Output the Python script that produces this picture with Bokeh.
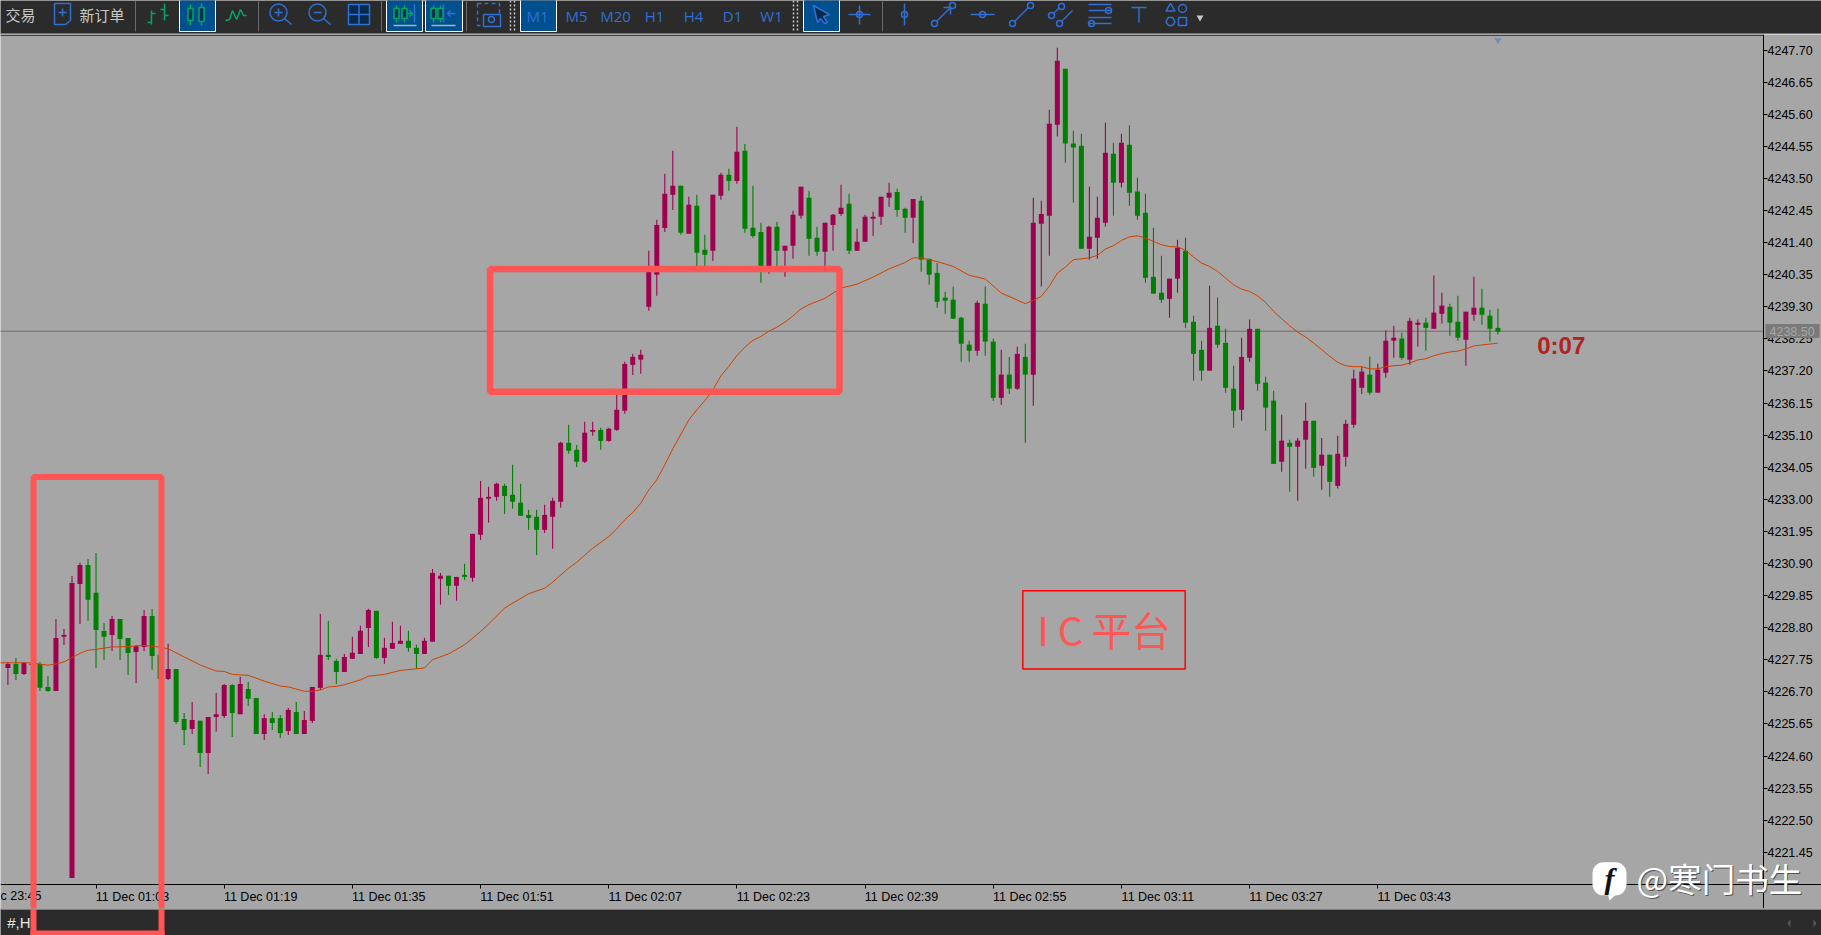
from bokeh.plotting import figure
from bokeh.layouts import column
from bokeh.models import (Range1d, LinearAxis, FixedTicker, PrintfTickFormatter, Label,
                          BoxAnnotation, ColumnDataSource)
from bokeh.core.properties import value
from bokeh.embed import file_html
from bokeh.resources import INLINE

direction = ("UDUUDDUUUU" "DDDUDDUUDD" "UDDUDUUUDU" "DDUDDUDUUU" "DDUUUUDUUU" "DDUUUDUDUU"
             "UUDDDDDUUU" "DDUUDUUUUU" "UUUUDUDDUU" "DUDDDUDUUU" "DDUUUDUUUU" "UDDUDDDDDD"
             "DUDDUDUDUU" "UUDDDUUUDU" "DDDDDUUDDD" "UDDDUUDDDU" "DUUDUDUUUU" "DUUUDUUDUU" "DDUUDDD")
body_top = [
 4227.61,4227.61,4227.65,4227.62,4227.61,4226.86,4228.46,4228.56,4230.26,4230.85,
 4230.85,4229.94,4228.69,4229.08,4229.08,4228.46,4228.20,4229.18,4229.18,4227.91,
 4227.45,4227.45,4225.81,4225.78,4225.75,4225.88,4225.97,4226.92,4226.92,4226.96,
 4226.79,4226.50,4225.84,4225.84,4225.84,4226.11,4226.04,4225.78,4226.86,4227.91,
 4227.91,4227.71,4227.84,4227.98,4228.70,4229.38,4229.35,4228.14,4228.30,4228.37,
 4228.37,4228.14,4228.37,4230.59,4230.50,4230.50,4230.46,4230.53,4231.87,4233.05,
 4233.08,4233.51,4233.44,4233.15,4232.89,4232.49,4232.43,4232.49,4232.95,4234.85,
 4234.85,4234.62,4235.18,4235.27,4235.27,4235.31,4235.93,4237.43,4237.66,4237.73,
 4240.57,4241.98,4243.00,4243.26,4243.26,4242.64,4242.61,4241.17,4242.97,4243.62,
 4243.62,4244.37,4244.41,4241.89,4241.75,4241.92,4241.92,4241.30,4242.31,4243.23,
 4242.87,4241.56,4242.05,4242.31,4242.54,4242.67,4241.43,4242.25,4242.25,4242.90,
 4243.03,4243.06,4242.51,4242.83,4242.77,4240.87,4240.41,4239.60,4239.53,4238.94,
 4238.06,4239.43,4239.40,4238.16,4237.08,4237.08,4237.76,4237.66,4242.05,4242.34,
 4245.29,4247.35,4247.09,4244.64,4244.57,4241.59,4242.21,4244.34,4244.31,4244.67,
 4244.60,4243.07,4242.38,4240.28,4239.76,4240.22,4241.23,4241.13,4238.81,4237.89,
 4238.61,4238.68,4238.12,4236.62,4237.66,4238.58,4238.58,4236.82,4236.23,4234.92,
 4234.85,4234.92,4235.57,4235.57,4234.46,4234.46,4234.49,4235.47,4236.95,4237.18,
 4237.08,4237.24,4238.19,4238.29,4238.26,4238.84,4238.78,4238.78,4239.11,4239.34,
 4239.30,4238.81,4239.14,4239.27,4239.27,4239.01,4238.61]
body_bottom = [
 4227.48,4227.28,4227.28,4227.58,4226.83,4226.73,4226.73,4228.50,4220.61,4230.23,
 4229.71,4228.72,4228.50,4228.56,4228.43,4227.97,4228.00,4228.17,4227.87,4227.12,
 4227.12,4225.71,4225.45,4225.48,4224.70,4224.70,4225.88,4225.91,4226.01,4225.97,
 4226.47,4225.32,4225.32,4225.68,4225.35,4225.42,4225.32,4225.32,4225.75,4226.83,
 4227.84,4227.35,4227.35,4227.78,4227.94,4228.79,4227.81,4227.81,4228.11,4228.27,
 4228.14,4227.94,4227.94,4228.34,4230.40,4230.17,4230.17,4230.46,4230.43,4231.84,
 4233.02,4233.08,4233.11,4232.92,4232.46,4232.39,4232.00,4232.00,4232.43,4232.92,
 4234.59,4234.23,4234.23,4235.21,4234.91,4234.91,4235.27,4235.90,4237.40,4237.57,
 4239.30,4240.35,4241.88,4242.97,4241.72,4241.69,4241.07,4241.00,4241.13,4242.93,
 4243.42,4243.42,4241.85,4241.62,4240.57,4240.51,4241.13,4241.13,4241.30,4242.28,
 4241.53,4241.10,4241.10,4241.98,4242.34,4241.13,4241.13,4241.43,4242.18,4242.25,
 4242.87,4242.47,4242.21,4242.21,4240.84,4240.35,4239.46,4239.50,4238.91,4238.09,
 4237.86,4237.86,4238.16,4236.32,4236.32,4236.62,4236.62,4237.08,4237.08,4242.02,
 4242.28,4245.26,4244.64,4244.51,4241.20,4241.20,4241.56,4242.05,4243.36,4243.36,
 4243.03,4242.28,4240.25,4239.73,4239.53,4239.56,4240.22,4238.78,4237.76,4237.21,
 4237.21,4238.06,4236.65,4235.90,4235.93,4237.63,4236.78,4236.00,4234.16,4234.23,
 4234.72,4234.72,4234.95,4234.03,4234.10,4233.57,4233.44,4234.39,4235.44,4236.65,
 4236.49,4236.49,4237.14,4238.19,4237.63,4237.57,4238.71,4238.61,4238.58,4239.07,
 4238.78,4238.29,4238.22,4239.04,4239.04,4238.58,4238.48]
highs = [
 4227.68,4227.81,4227.68,4227.66,4227.68,4227.22,4229.08,4228.76,4230.49,4230.92,
 4231.05,4231.24,4228.95,4229.18,4229.08,4228.46,4228.23,4229.38,4229.41,4228.18,
 4228.27,4227.45,4226.01,4226.37,4225.75,4225.88,4226.66,4226.96,4226.96,4227.19,
 4227.02,4226.50,4225.97,4226.04,4225.94,4226.17,4226.37,4226.07,4226.86,4229.25,
 4229.02,4227.78,4227.94,4228.50,4228.86,4229.42,4229.35,4228.47,4228.99,4228.86,
 4228.70,4228.24,4228.47,4230.72,4230.59,4230.50,4230.46,4230.89,4231.87,4233.60,
 4233.41,4233.54,4233.51,4234.13,4233.51,4232.66,4232.66,4232.82,4233.05,4234.88,
 4235.44,4234.78,4235.54,4235.54,4235.34,4235.34,4236.42,4237.50,4237.76,4237.89,
 4241.13,4242.15,4243.65,4244.41,4243.26,4242.90,4242.97,4241.66,4242.97,4243.69,
 4243.82,4245.19,4244.63,4243.26,4242.05,4241.95,4242.08,4241.30,4242.44,4243.23,
 4243.10,4241.92,4242.05,4242.34,4243.29,4243.00,4241.85,4242.31,4242.41,4242.90,
 4243.36,4243.16,4242.54,4242.83,4242.93,4240.87,4240.73,4239.79,4239.96,4238.97,
 4238.19,4239.50,4239.96,4238.25,4237.89,4237.66,4237.99,4238.09,4242.87,4242.77,
 4245.75,4247.78,4247.09,4245.06,4244.96,4243.23,4242.90,4245.32,4244.67,4244.96,
 4245.23,4243.52,4243.00,4241.89,4240.97,4240.22,4241.49,4241.56,4239.01,4238.19,
 4239.99,4239.60,4238.58,4237.37,4238.29,4238.88,4238.58,4237.01,4236.55,4235.77,
 4234.95,4235.01,4236.16,4235.57,4235.01,4234.46,4235.08,4235.60,4237.24,4237.34,
 4237.67,4237.44,4238.52,4238.68,4238.45,4238.94,4238.88,4238.94,4240.32,4239.76,
 4239.40,4239.66,4239.14,4240.28,4239.89,4239.20,4239.24]
lows = [
 4226.92,4227.09,4227.25,4227.50,4226.73,4226.70,4226.73,4228.23,4220.61,4228.92,
 4229.02,4227.48,4227.74,4228.04,4227.74,4227.25,4226.99,4228.04,4227.42,4227.12,
 4227.09,4225.65,4224.96,4225.32,4224.24,4224.01,4225.39,4225.84,4225.22,4225.97,
 4226.24,4225.32,4225.12,4225.45,4225.19,4225.29,4225.32,4225.32,4225.68,4226.76,
 4227.74,4226.96,4227.35,4227.78,4227.94,4228.17,4227.78,4227.62,4228.11,4228.27,
 4228.01,4227.45,4227.94,4228.34,4229.55,4229.87,4229.68,4230.36,4230.30,4231.67,
 4232.23,4232.95,4232.52,4232.69,4232.46,4232.00,4231.18,4231.90,4231.38,4232.72,
 4234.49,4234.06,4234.19,4235.08,4234.62,4234.88,4235.24,4235.80,4237.07,4237.11,
 4239.17,4239.66,4241.75,4242.47,4241.66,4241.69,4240.57,4240.62,4240.80,4242.80,
 4243.10,4243.33,4241.72,4241.56,4240.09,4240.38,4240.57,4240.28,4240.87,4242.18,
 4240.97,4240.97,4240.57,4241.13,4242.28,4241.03,4241.13,4241.43,4241.62,4241.98,
 4242.57,4242.25,4241.72,4241.39,4240.45,4240.02,4239.27,4239.07,4238.91,4237.50,
 4237.50,4237.70,4237.70,4236.22,4236.09,4236.45,4236.58,4234.85,4236.06,4239.96,
 4240.97,4244.87,4244.01,4242.71,4241.20,4240.84,4240.87,4241.92,4242.28,4243.20,
 4242.61,4242.15,4240.09,4239.73,4239.43,4238.94,4239.76,4238.61,4236.88,4236.88,
 4237.21,4237.96,4236.49,4235.34,4235.57,4237.50,4236.55,4235.24,4234.16,4233.90,
 4233.25,4232.95,4234.00,4233.74,4233.31,4233.08,4233.35,4234.07,4235.34,4236.45,
 4236.42,4236.49,4236.98,4237.63,4237.57,4237.40,4237.99,4237.86,4238.58,4238.75,
 4238.35,4238.19,4237.37,4238.84,4238.71,4238.16,4238.39]
ma_index = [-1,3,5,6,7,8,9,10,11,13,15,17,19,20,22,24,26,27,28,30,32,34,35,37,38,39,40,41,42,44,45,47,49,52,53,55,57,59,60,62,
            63,65,67,68,70,71,73,75,76,77,78,79,80,81,82,83,85,86,87,88,89,90,91,92,93,94,95,96,97,98,99,100,102,104,106,108,
            110,112,113,114,116,118,120,122,124,126,127,128,129,130,131,132,133,135,136,137,138,139,140,141,142,143,144,145,146,
            147,148,149,150,151,152,153,154,155,156,157,158,159,160,161,162,163,164,165,166,167,168,169,170,171,172,173,174,175,
            176,177,178,179,180,181,182,183,184,185,186]
ma_value = [4227.65,4227.65,4227.57,4227.61,4227.68,4227.82,4227.96,4228.06,4228.09,4228.17,4228.18,4228.22,4228.16,4228.11,
            4227.84,4227.58,4227.38,4227.37,4227.27,4227.24,4227.05,4226.89,4226.86,4226.72,4226.72,4226.76,4226.86,4226.88,
            4226.93,4227.09,4227.21,4227.27,4227.40,4227.48,4227.75,4227.94,4228.24,4228.67,4228.92,4229.44,4229.60,4229.91,
            4230.09,4230.29,4230.75,4230.94,4231.40,4231.78,4232.03,4232.33,4232.57,4232.87,4233.31,4233.64,4234.13,4234.65,
            4235.60,4235.93,4236.23,4236.58,4237.04,4237.35,4237.70,4237.98,4238.20,4238.33,4238.50,4238.63,4238.80,4239.00,
            4239.23,4239.37,4239.58,4239.91,4240.04,4240.27,4240.54,4240.75,4240.90,4240.90,4240.78,4240.62,4240.33,4240.21,
            4239.75,4239.52,4239.40,4239.51,4239.64,4239.97,4240.40,4240.60,4240.84,4240.90,4240.98,4241.19,4241.30,4241.47,
            4241.59,4241.62,4241.55,4241.44,4241.33,4241.27,4241.26,4241.15,4240.93,4240.73,4240.62,4240.46,4240.24,4240.02,
            4239.88,4239.80,4239.66,4239.44,4239.15,4238.91,4238.68,4238.47,4238.31,4238.11,4237.90,4237.68,4237.48,4237.37,
            4237.34,4237.34,4237.27,4237.27,4237.34,4237.37,4237.39,4237.46,4237.56,4237.60,4237.70,4237.77,4237.82,4237.85,
            4237.92,4238.02,4238.05,4238.08,4238.11]
price_ticks = [4247.70,4246.65,4245.60,4244.55,4243.50,4242.45,4241.40,4240.35,4239.30,4238.25,4237.20,4236.15,4235.10,
               4234.05,4233.00,4231.95,4230.90,4229.85,4228.80,4227.75,4226.70,4225.65,4224.60,4223.55,4222.50,4221.45]
time_tick_index = [11,27,43,59,75,91,107,123,139,155,171]
time_tick_labels = ["11 Dec 01:03","11 Dec 01:19","11 Dec 01:35","11 Dec 01:51","11 Dec 02:07","11 Dec 02:23",
                    "11 Dec 02:39","11 Dec 02:55","11 Dec 03:11","11 Dec 03:27","11 Dec 03:43"]
first_time_label = "c 23:45"
last_price = 4238.50

assert len(direction)==len(body_top)==len(body_bottom)==len(highs)==len(lows)==187, (len(direction),len(body_top),len(body_bottom),len(highs),len(lows))
assert len(ma_index)==len(ma_value), (len(ma_index),len(ma_value))

BG="#A6A6A6"; DARK="#2B2B2B"; UP="#A00050"; DOWN="#008000"; RED="#FF5555"; BLUE="#2F6FD6"; SEL="#00508F"; GRN="#00A860"; MAC="#D04000"
FONT="Liberation Sans"; UI="Open Sans"; CJK="Noto Sans CJK SC"
X_END=219.15; Y_START=4220.39; Y_TOP=4248.19

# ---------- main chart ----------
chart = figure(width=1821, height=874, output_backend="svg", toolbar_location=None,
               x_range=Range1d(-0.924, 226.39), y_range=Range1d(4219.61, 4248.21),
               x_axis_type=None, y_axis_type=None, background_fill_color=BG, border_fill_color=BG,
               min_border=0, outline_line_color=None)
chart.grid.visible=False

idx=list(range(len(direction)))
colors=[UP if d=="U" else DOWN for d in direction]
opens=[b if d=="U" else t for d,t,b in zip(direction,body_top,body_bottom)]
closes=[t if d=="U" else b for d,t,b in zip(direction,body_top,body_bottom)]
src=ColumnDataSource(dict(i=idx,o=opens,c=closes,h=highs,l=lows,col=colors,t=body_top,b=body_bottom))
chart.line([-1,X_END],[last_price,last_price],line_color="#6E6E6E",line_width=1)
chart.segment("i","h","i","l",source=src,line_color="col",line_width=1.1)
chart.vbar(x="i",width=0.624,top="t",bottom="b",source=src,fill_color="col",line_color=None)
chart.line(ma_index,ma_value,line_color=MAC,line_width=1)
chart.scatter([186],[4248.02],marker="inverted_triangle",size=7,fill_color="#6F8FB0",line_color=None)
chart.line([-1,X_END],[Y_TOP,Y_TOP],line_color="#000000",line_width=1)

yaxis=LinearAxis(fixed_location=X_END,ticker=FixedTicker(ticks=price_ticks),formatter=PrintfTickFormatter(format="%.2f"),
                 axis_line_color="#000000",major_tick_line_color="#000000",major_tick_in=0,major_tick_out=4,minor_tick_line_color=None,
                 major_label_standoff=0,major_label_text_font=FONT,major_label_text_font_size="12.5px",major_label_text_color="#000000")
chart.add_layout(yaxis,"right")
tickaxis=LinearAxis(fixed_location=Y_START,ticker=FixedTicker(ticks=time_tick_index),major_label_overrides={t:"" for t in time_tick_index},major_label_standoff=0,
                    axis_line_color="#000000",major_tick_line_color="#000000",major_tick_in=0,major_tick_out=4,minor_tick_line_color=None)
chart.add_layout(tickaxis,"below")
label_pos=[t+4.55 for t in time_tick_index]
labelaxis=LinearAxis(fixed_location=Y_START,ticker=FixedTicker(ticks=label_pos),major_label_overrides=dict(zip(label_pos,time_tick_labels)),
                     axis_line_color=None,major_tick_line_color=None,minor_tick_line_color=None,major_tick_in=0,major_tick_out=0,major_label_standoff=5,
                     major_label_text_font=FONT,major_label_text_font_size="12.5px",major_label_text_color="#000000")
chart.add_layout(labelaxis,"below")
chart.add_layout(Label(x=41,x_units="screen",y=4220.02,text=first_time_label,text_font=FONT,text_font_size="12.5px",text_color="#000000",text_baseline="middle",text_align="right"))

def frame_box(l,r,t,b,color,w):
    chart.add_layout(BoxAnnotation(left=l,right=r,top=t,bottom=b,fill_alpha=0,line_color=color,line_width=w,line_alpha=1))
frame_box(3.2,19.17,4233.73,4218.81,RED,6)
frame_box(60.18,103.8,4240.54,4236.52,RED,6.5)
frame_box(126.69,146.96,4230.01,4227.45,"#FF0000",1.5)
chart.add_layout(Label(x=128.5,y=4228.78,text="I C 平台",text_font=CJK,text_font_size="39.5px",text_color=RED,text_baseline="middle",text_align="left"))
chart.add_layout(Label(x=190.9,y=4238.02,text="0:07",text_font=FONT,text_font_style="bold",text_font_size="24px",text_color="#B22222",text_baseline="middle",text_align="left"))
# last-price tag on the axis
chart.add_layout(BoxAnnotation(left=219.4,right=226.15,top=4238.74,bottom=4238.28,fill_color="#7A7A7A",fill_alpha=1,line_color=None))
chart.add_layout(Label(x=1769,x_units="screen",y=last_price,text="4238.50",text_font=FONT,text_font_size="12.5px",text_color="#A8A8A8",
                       text_baseline="middle",text_align="left"))
# watermark
chart.patch([199.67,201.05,199.92],[4220.13,4220.13,4219.87],fill_color="#FFFFFF",line_color=None)
chart.add_layout(Label(x=1609,x_units="screen",y=4220.58,text="f",text_font="Liberation Serif",text_font_style="bold italic",text_font_size="30px",text_color="#111111",
                       text_baseline="middle",text_align="center",background_fill_color="#FFFFFF",border_radius=11,padding=(12,0)))
chart.add_layout(Label(x=1637,x_units="screen",y=4220.60,text="@寒门书生",text_font=CJK,text_font_size="33.5px",text_color="#555555",text_baseline="middle",text_align="left"))
chart.add_layout(Label(x=1636,x_units="screen",y=4220.63,text="@寒门书生",text_font=CJK,text_font_size="33.5px",text_color="#FFFFFF",text_baseline="middle",text_align="left"))

# ---------- terminal toolbar ----------
tb = figure(width=1821, height=34, output_backend="svg", toolbar_location=None, x_range=Range1d(0,1821), y_range=Range1d(34,0),
            x_axis_location=None, y_axis_location=None, background_fill_color=DARK, border_fill_color=DARK,
            min_border=0, outline_line_color=None)
tb.grid.visible=False
tb.quad(left=[0],right=[1821],top=[33],bottom=[34],fill_color="#BEBEBE",line_color=None)
def sel(l,r): tb.quad(left=[l],right=[r],top=[-1],bottom=[31],fill_color=SEL,line_color="#FFFFFF",line_width=1)
for l,r in [(179,215),(386,422),(425,462),(520,556),(803,839)]: sel(l,r)
for x in [135,258,381,466,882]: tb.line([x,x],[0,31],line_color="#6A6A6A",line_width=1)
for x in [510,514,793,797]: tb.line([x,x],[0,32],line_color="#C8C8C8",line_width=1.5,line_dash="2 2")
def ln(xs,ys,c=BLUE,w=1.5,**k): tb.line(xs,ys,line_color=c,line_width=w,**k)
def ring(x,y,s=6,c=BLUE,w=1.5): tb.scatter([x],[y],size=s,marker="circle",fill_color=None,line_color=c,line_width=w)
def cand(x,t,b,lo,hi,c=GRN):
    ln([x,x],[lo,hi],c)
    tb.quad(left=[x-2.5],right=[x+2.5],top=[t],bottom=[b],fill_color="#0A3050",line_color=c,line_width=1.5)
tb.text([35],[14],text=["交易"],text_font=value(CJK),text_font_size="15px",text_color="#C8C8C8",text_align="right",text_baseline="middle")
tb.text([79],[14],text=["新订单"],text_font=value(CJK),text_font_size="15px",text_color="#C8C8C8",text_align="left",text_baseline="middle")
ln([54,54,65,70,70,66,54],[3,24,24,20,3,3,3]); ln([58,66],[12,12]); ln([62,62],[8,16])
# bars / candles / line
ln([151,151],[10,24],GRN); ln([147,151],[22,22],GRN); ln([151,155],[13,13],GRN)
ln([164,164],[3,20],GRN); ln([160,164],[9,9],GRN); ln([164,168],[15,15],GRN)
cand(190,8,20,4,25); cand(201,7,21,3,25)
ln([225,229,232,236,240,243,246],[20,19,10,19,9,15,15],GRN)
# zoom
ring(278,12,17); ln([284,291],[18,24]); ln([274,282],[12,12]); ln([278,278],[8,16])
ring(317,12,17); ln([323,330],[18,24]); ln([313,321],[12,12])
tb.quad(left=[348],right=[369],top=[4],bottom=[24],fill_color="#0A2A4A",line_color=BLUE,line_width=1.5); ln([358.5,358.5],[4,24]); ln([348,369],[14,14])
# scroll icons
cand(396,8,18,5,22); cand(404,8,18,5,22); ln([406,412],[13,13],GRN); ln([409,412,409],[10,13,16],GRN); ln([414,414],[4,22]); ln([393,416],[25,25],"#B0B0B0")
cand(433,8,18,5,22); cand(440,8,18,5,22); ln([443,443],[4,22]); ln([447,455],[13,13]); ln([450,447,450],[10,13,16]); ln([431,455],[25,25],"#B0B0B0")
# camera
tb.quad(left=[477],right=[499],top=[3],bottom=[25],fill_color=None,line_color=BLUE,line_width=1.5,line_dash="4 3")
tb.quad(left=[483],right=[500],top=[14],bottom=[26],fill_color=DARK,line_color=BLUE,line_width=1.5); ring(491,19,6)
# timeframes
tf=["M1","M5","M20","H1","H4","D1","W1"]; tfx=[537,576,615,654,693,732,771]
tb.text(tfx,[15]*7,text=tf,text_font=value(UI),text_font_size="15px",text_color=BLUE,text_align="center",text_baseline="middle")
# cursor & tools
tb.patch([813,829,823,827,824,820,817],[5,14,16,22,23,18,22],fill_color="#0A2A4A",line_color=BLUE,line_width=1.5)
ln([848,870],[14,14]); ln([859,859],[5,24]); ring(859,14,6)
ln([904,904],[3,25]); ring(904,14,6)
ln([936,950],[21,7]); ring(934,23,6); ring(952,5,6); ln([943,950,950],[7,7,14])
ln([970,994],[14,14]); ring(982,14,6)
ln([1014,1028],[21,7]); ring(1012,23,6); ring(1030,5,6)
ln([1053,1059],[13,7]); ring(1051,15,6); ring(1061,6,6); ln([1061,1072],[21,10]); ring(1059,23,6)
for y in [4,10,17,23]: ln([1088,1111],[y,y])
ring(1108,10,6); ring(1091,23,6)
ln([1131,1146],[7,7]); ln([1138.5,1138.5],[7,22])
tb.scatter([1170],[8],marker="triangle",size=9,fill_color=None,line_color=BLUE,line_width=1.5); ring(1182,8,8)
tb.scatter([1170],[21],marker="hex",size=9,fill_color=None,line_color=BLUE,line_width=1.5)
tb.scatter([1182],[21],marker="square",size=8,fill_color=None,line_color=BLUE,line_width=1.5)
tb.scatter([1199.5],[17],marker="inverted_triangle",size=7,fill_color="#C8C8C8",line_color=None)

# ---------- status bar ----------
st = figure(width=1821, height=27, output_backend="svg", toolbar_location=None, x_range=Range1d(0,1821), y_range=Range1d(935,908),
            x_axis_location=None, y_axis_location=None, background_fill_color=DARK, border_fill_color=DARK,
            min_border=0, outline_line_color=None)
st.grid.visible=False
st.quad(left=[0],right=[1821],top=[908],bottom=[909],fill_color="#D0D0D0",line_color=None)
st.text([30],[922],text=["#,H"],text_font=value(FONT),text_font_size="15px",text_color="#E8E8E8",text_align="right",text_baseline="middle")
st.quad(left=[30,158,30],right=[36,164,164],top=[908,908,930],bottom=[935,935,935],fill_color=RED,line_color=None)
st.patch([1790,1790,1787],[919,927,923],fill_color="#5A5A5A",line_color=None)
st.patch([1813,1813,1816],[919,927,923],fill_color="#5A5A5A",line_color=None)

page = column(tb, chart, st, spacing=0)
open("out.html", "w").write(file_html(page, INLINE))
